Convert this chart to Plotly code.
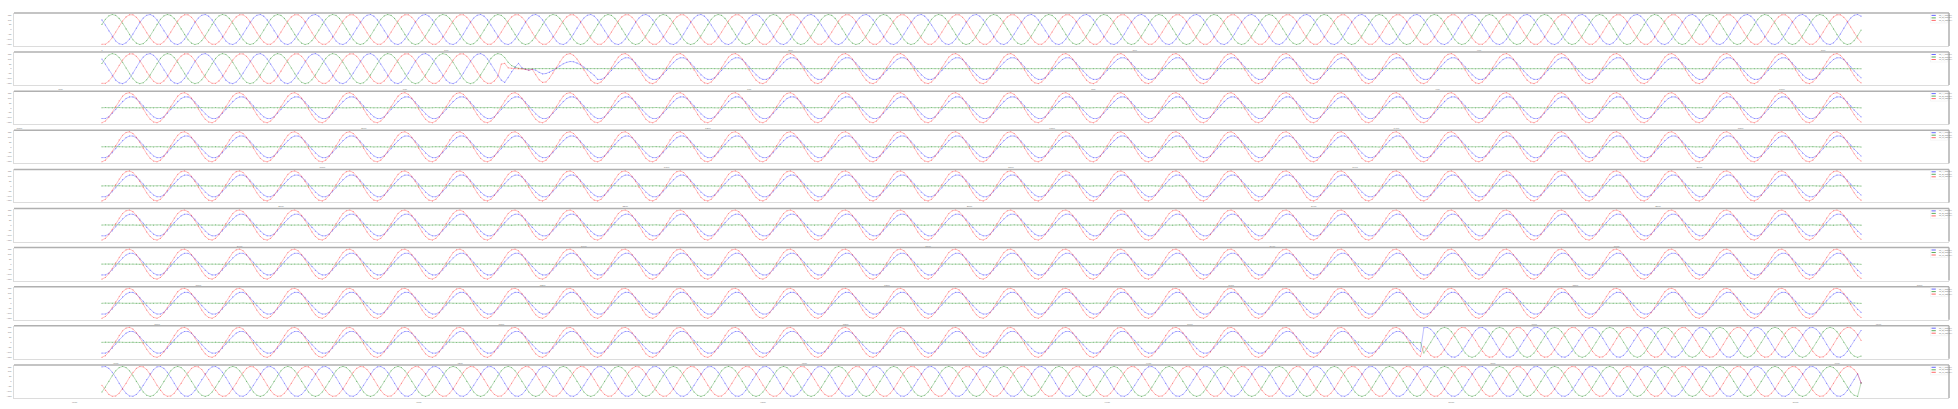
import plotly.graph_objects as go
from plotly.subplots import make_subplots

# ---------------- data (normalised) ----------------
SAMPLES_PER_PANEL = 512
N_PANELS = 10
AMP = 15300          # peak value of a healthy phase
X_TICK_STEP = 100

# one 16-sample cycle per phase and state
PRE_BLUE = [0.64, 0.30, -0.09, -0.46, -0.77, -0.95, -1.00, -0.89, -0.64, -0.30, 0.09, 0.46, 0.77, 0.95, 1.00, 0.89]
PRE_GREEN = [0.34, 0.68, 0.91, 1.00, 0.94, 0.74, 0.42, 0.04, -0.34, -0.68, -0.91, -1.00, -0.94, -0.74, -0.42, -0.04]
PRE_RED = [-0.98, -0.98, -0.82, -0.54, -0.17, 0.22, 0.57, 0.84, 0.98, 0.98, 0.82, 0.54, 0.17, -0.22, -0.57, -0.84]

FAULT_BLUE = [-0.72, -0.72, -0.60, -0.39, -0.12, 0.16, 0.42, 0.61, 0.72, 0.72, 0.60, 0.39, 0.12, -0.16, -0.42, -0.61]
FAULT_GREEN = [0.0, 0.01, 0.0, -0.01, 0.0, 0.01, 0.0, -0.01, 0.0, 0.01, 0.0, -0.01, 0.0, 0.01, 0.0, -0.01]
FAULT_RED = [-1.00, -0.89, -0.64, -0.30, 0.09, 0.46, 0.77, 0.95, 1.00, 0.89, 0.64, 0.30, -0.09, -0.46, -0.77, -0.95]

POST_BLUE = [0.97, 0.99, 0.87, 0.61, 0.26, -0.13, -0.50, -0.79, -0.97, -0.99, -0.87, -0.61, -0.26, 0.13, 0.50, 0.79]
POST_GREEN = [-0.71, -0.38, 0.00, 0.38, 0.71, 0.92, 1.00, 0.92, 0.71, 0.38, 0.00, -0.38, -0.71, -0.92, -1.00, -0.92]
POST_RED = [-0.26, -0.61, -0.87, -0.99, -0.97, -0.79, -0.50, -0.13, 0.26, 0.61, 0.87, 0.99, 0.97, 0.79, 0.50, 0.13]

# fault inception transient, samples 628..655
INCEPTION_START = 628
INC_BLUE = [-0.77, -0.92, -0.60, -0.20, 0.10, 0.35, 0.05, -0.05, -0.10, -0.05, -0.10, -0.25, -0.35, -0.33,
            -0.25, -0.12, 0.02, 0.18, 0.32, 0.42, 0.47, 0.46, 0.38, 0.26, 0.10, -0.08, -0.28, -0.45]
INC_GREEN = [0.94, 0.74, 0.42, 0.20, 0.10, 0.02, 0.0, 0.0, 0.0, 0.0, 0.0, 0.0, 0.0, 0.0,
             0.0, 0.0, 0.0, 0.0, 0.0, 0.0, 0.0, 0.0, 0.0, 0.0, 0.0, 0.0, 0.0, 0.0]
INC_RED = [0.30, 0.35, 0.05, 0.02, 0.00, 0.00, 0.00, -0.05, -0.10, -0.05, -0.40, -0.75, -0.92, -0.89,
           -0.64, -0.30, 0.09, 0.46, 0.77, 0.95, 1.00, 0.89, 0.64, 0.30, -0.09, -0.46, -0.77, -0.95]

CLEARING_SAMPLE = 4480      # fault cleared / reclosed
END_VALUE = [-0.10, -0.10, -0.10]   # last recorded sample (blue, green, red)

SERIES_NAMES = ["ch_A_inst (kV)", "ch_B_inst (kV)", "ch_C_inst (kV)"]
SERIES_COLORS = ["#2a2aff", "#1a8c1a", "#ff2a2a"]

# ---------------- build series from the tables ----------------
total = SAMPLES_PER_PANEL * N_PANELS
inc_len = len(INC_BLUE)
tables = [
    (PRE_BLUE, INC_BLUE, FAULT_BLUE, POST_BLUE),
    (PRE_GREEN, INC_GREEN, FAULT_GREEN, POST_GREEN),
    (PRE_RED, INC_RED, FAULT_RED, POST_RED),
]
series = []
for p, (pre, inc, flt, post) in enumerate(tables):
    vals = []
    for n in range(total):
        k = n % 16
        if n < INCEPTION_START:
            v = pre[k]
        elif n < INCEPTION_START + inc_len:
            v = inc[n - INCEPTION_START]
        elif n < CLEARING_SAMPLE:
            v = flt[k]
        else:
            v = post[k]
        vals.append(v)
    vals[-1] = END_VALUE[p]
    series.append([v * AMP for v in vals])

# ---------------- figure ----------------
W, H = 1958, 409


def fx(px):   # page pixel -> paper fraction (x)
    return px / W


def fy(py):   # page pixel -> paper fraction (y)
    return 1 - py / H


PANEL_TOP0, PANEL_STEP, PANEL_H = 13, 39.1, 33
X_LEFT, X_RIGHT = 14, 1949
LEG_X0, LEG_X1, LEG_TXT = 1931.5, 1935.8, 1936.6
LEG_ROW0, LEG_ROWSTEP = 2.4, 2.5

fig = make_subplots(rows=N_PANELS, cols=1)
shapes, annotations = [], []
for r in range(N_PANELS):
    s = r * SAMPLES_PER_PANEL
    xs = list(range(s, s + SAMPLES_PER_PANEL))
    for p in range(3):
        ys = series[p][s:s + SAMPLES_PER_PANEL]
        fig.add_trace(go.Scatter(
            x=xs, y=ys, mode="lines+markers", name=SERIES_NAMES[p],
            line=dict(color=SERIES_COLORS[p], width=0.5),
            marker=dict(color=SERIES_COLORS[p], size=1.1),
            opacity=0.6, showlegend=False,
        ), row=r + 1, col=1)

    top = PANEL_TOP0 + PANEL_STEP * r
    ydom = [fy(top + PANEL_H), fy(top)]
    span = SAMPLES_PER_PANEL - 1
    pad = 0.05 * span
    allv = [v for p in range(3) for v in series[p][s:s + SAMPLES_PER_PANEL]]
    ymin, ymax = min(allv), max(allv)
    ypad = 0.05 * (ymax - ymin)
    ax = "" if r == 0 else str(r + 1)
    fig.update_layout(**{
        f"xaxis{ax}": dict(domain=[fx(X_LEFT), fx(X_RIGHT)], range=[s - pad, s + span + pad],
                           tick0=0, dtick=X_TICK_STEP, showgrid=False, zeroline=False,
                           showline=True, linecolor="#dcdcdc", linewidth=1,
                           ticks="", tickfont=dict(size=2.5, color="#777"), ticklabelstandoff=1,
                           automargin=False),
        f"yaxis{ax}": dict(domain=ydom, range=[ymin - ypad, ymax + ypad],
                           dtick=5000, showgrid=False, zeroline=False,
                           showline=True, linecolor="#dcdcdc", linewidth=1,
                           ticks="", tickfont=dict(size=2.3, color="#777"), ticklabelstandoff=1,
                           automargin=False),
    })
    xd, yd = f"x{ax} domain", f"y{ax} domain"
    shapes.append(dict(type="line", xref=xd, yref=yd, x0=0, x1=1, y0=1, y1=1,
                       line=dict(color="#b0b0b0", width=1.5)))
    shapes.append(dict(type="line", xref=xd, yref=yd, x0=1, x1=1, y0=0, y1=1,
                       line=dict(color="#b0b0b0", width=1.5)))
    # per-panel legend
    shapes.append(dict(type="rect", xref="paper", yref="paper",
                       x0=fx(LEG_X0 - 1), x1=fx(1947.5),
                       y0=fy(top + LEG_ROW0 + 3 * LEG_ROWSTEP), y1=fy(top + 1),
                       line=dict(color="#ececec", width=0.5), fillcolor="rgba(255,255,255,0.9)"))
    for p in range(3):
        yy = fy(top + LEG_ROW0 + LEG_ROWSTEP * p)
        shapes.append(dict(type="line", xref="paper", yref="paper",
                           x0=fx(LEG_X0), x1=fx(LEG_X1), y0=yy, y1=yy,
                           line=dict(color=SERIES_COLORS[p], width=1), opacity=0.7))
        annotations.append(dict(xref="paper", yref="paper", x=fx(LEG_TXT), y=yy,
                                xanchor="left", yanchor="middle", showarrow=False,
                                text=SERIES_NAMES[p], font=dict(size=2, color="#666")))

fig.update_layout(width=W, height=H, margin=dict(l=0, r=0, t=0, b=0),
                  paper_bgcolor="white", plot_bgcolor="white", shapes=shapes,
                  annotations=annotations, showlegend=False, hovermode=False,
                  font=dict(family="Liberation Sans"))
fig.write_html("out.html", config={"displayModeBar": False},
               post_script="document.body.style.margin='0';document.body.style.overflow='hidden';")
